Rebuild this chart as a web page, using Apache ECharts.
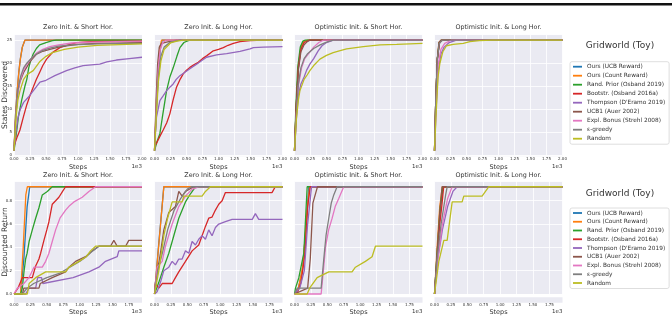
<!DOCTYPE html>
<html>
<head>
<meta charset="utf-8">
<script src="https://cdn.jsdelivr.net/npm/echarts@6/dist/echarts.min.js"></script>
<style>
html, body { margin: 0; padding: 0; background: #fff; }
#main { width: 672px; height: 317px; }
</style>
</head>
<body>
<div id="main"></div>
<script>
// methods in legend order (matplotlib tab10 colours)
var methods = ['Ours (UCB Reward)', 'Ours (Count Reward)', 'Rand. Prior (Osband 2019)', 'Bootstr. (Osband 2016a)',
	'Thompson (D\'Eramo 2019)', 'UCB1 (Auer 2002)', 'Expl. Bonus (Strehl 2008)', 'ε-greedy', 'Random'];
var colors = ['#1f77b4', '#ff7f0e', '#2ca02c', '#d62728', '#9467bd', '#8c564b', '#e377c2', '#7f7f7f', '#bcbd22'];
var panelTitles = ['Zero Init. & Short Hor.', 'Zero Init. & Long Hor.', 'Optimistic Init. & Short Hor.', 'Optimistic Init. & Long Hor.'];
var xMaxTop = 2000, xMaxBottom = 1950, xStep = 250;
var yMaxStates = 26.2, yStepStates = 5;
var yMaxReturn = 0.966, yStepReturn = 0.2;

// states discovered, [step, states], one list per method
var statesZeroShort = [
	[[0,1],[25,9],[50,14],[75,18],[100,21],[130,23.5],[170,25],[2000,25]],
	[[0,1],[25,9],[50,14],[75,18],[100,21],[130,23.5],[170,25],[2000,25]],
	[[0,1],[40,5],[70,8.5],[120,12],[170,15],[200,16.5],[230,19],[260,20.5],[300,22],[350,23.2],[400,24],[500,24.5],[600,24.9],[660,25],[2000,25]],
	[[0,2],[50,4],[93,5.5],[150,8.5],[200,11],[250,13],[300,14.8],[350,16.5],[400,18],[450,19.5],[509,20.9],[600,22.3],[716,23.4],[850,24],[976,24.5],[1200,24.7],[2000,24.8]],
	[[0,1],[30,5],[60,8],[93,9.8],[150,11.5],[223,12.6],[300,14],[405,15.9],[500,16.3],[638,17.3],[820,18.4],[950,19],[1080,19.5],[1340,19.8],[1450,20.3],[1600,20.7],[1800,21],[2000,21.3]],
	[[0,1],[30,9],[60,14],[93,16],[150,18],[197,19.1],[260,20.5],[353,22],[450,22.6],[560,23],[700,23.5],[820,23.8],[1000,24.1],[1300,24.3],[2000,24.5]],
	[[0,1],[30,9],[60,13.5],[100,16.5],[150,18.5],[200,19.8],[270,21],[350,22.2],[450,23],[560,23.6],[700,24],[900,24.4],[1200,24.6],[2000,24.8]],
	[[0,1],[30,9],[60,14],[100,17],[150,19],[200,20],[280,21.2],[350,22],[450,22.8],[560,23.3],[700,23.7],[900,24],[1300,24.2],[2000,24.3]],
	[[0,1],[30,8],[60,12],[93,14],[150,16.5],[200,17.5],[300,18.4],[400,20.3],[500,21.5],[600,22.3],[786,23],[1000,23.5],[1300,23.9],[2000,24.2]]
];
var statesZeroLong = [
	[[0,1],[30,10],[60,18],[90,23],[120,25],[2000,25]],
	[[0,1],[25,10],[50,18],[80,23],[110,25],[2000,25]],
	[[0,1],[40,3],[84,4.7],[120,8],[188,14],[240,17],[292,19],[350,21.5],[397,23.4],[460,24.5],[527,24.9],[560,25],[2000,25]],
	[[0,2],[31,2.6],[80,4],[136,5.5],[190,7],[240,9],[290,12],[344,14.8],[400,16.5],[449,17.7],[500,18.5],[553,19.1],[620,19.7],[684,20.2],[750,21],[814,21.6],[919,22.7],[1000,23],[1075,23.4],[1150,23.9],[1232,24.3],[1336,24.7],[1493,24.9],[1700,25],[2000,25]],
	[[0,1],[15,5],[31,8.3],[84,11.9],[140,13],[188,14],[240,14.8],[292,15.5],[340,16.5],[397,17.3],[470,18],[553,18.8],[658,19.8],[740,20.6],[814,21.3],[971,21.8],[1128,22.1],[1336,22.6],[1493,23.1],[1545,23.4],[1700,23.5],[2000,23.6]],
	[[0,1],[25,12],[50,20],[75,23.5],[110,24.3],[188,24.6],[300,24.9],[344,25],[2000,25]],
	[[0,1],[30,11],[60,19],[90,23],[130,24.5],[180,25],[2000,25]],
	[[0,1],[30,10],[60,17],[100,21.5],[150,23.5],[250,24.6],[400,25],[2000,25]],
	[[0,1],[30,9],[60,16],[100,20.5],[150,23],[250,24.4],[350,24.8],[450,25],[2000,25]]
];
var statesOptShort = [
	[[0,1],[25,10],[60,19],[100,23.5],[150,24.8],[220,25],[2000,25]],
	[[0,1],[25,10],[60,19.5],[100,23.5],[150,24.8],[210,25],[2000,25]],
	[[0,1],[20,10],[50,19],[90,23.5],[130,24.8],[162,25],[2000,25]],
	[[0,1],[25,10],[60,19],[100,23],[150,24.5],[230,25],[2000,25]],
	[[0,1],[30,8],[60,13],[100,15.5],[150,17],[190,18.5],[240,19.8],[300,21],[370,22.7],[430,23.8],[500,24.5],[605,25],[2000,25]],
	[[0,1],[25,10],[60,18.5],[100,22.5],[150,24],[200,24.7],[240,25],[2000,25]],
	[[0,1],[30,9],[60,15],[110,19],[160,21],[214,22],[300,23.5],[380,24.5],[450,25],[2000,25]],
	[[0,1],[30,9],[60,15.5],[100,19],[150,21],[200,22],[300,23.2],[400,24],[500,24.6],[605,25],[2000,25]],
	[[0,1],[30,8],[60,12],[84,14],[150,16.5],[200,17.5],[240,18.4],[300,19.5],[397,20.9],[500,21.7],[605,22.3],[700,22.7],[814,23.1],[1075,23.6],[1336,24],[1597,24.1],[2000,24.3]]
];
var statesOptLong = [
	[[0,1],[20,12],[45,21],[75,24.5],[110,25],[2000,25]],
	[[0,1],[20,12],[45,21],[70,24.5],[105,25],[2000,25]],
	[[0,1],[20,12],[45,21],[75,24.5],[115,25],[2000,25]],
	[[0,1],[20,12],[45,21],[80,24.5],[120,25],[2000,25]],
	[[0,1],[25,10],[55,18],[100,22],[150,23.5],[230,24.5],[344,25],[2000,25]],
	[[0,1],[20,12],[45,21],[70,24.5],[100,25],[2000,25]],
	[[0,1],[25,11],[55,19.5],[100,23],[160,24.3],[260,25],[2000,25]],
	[[0,1],[20,12],[45,21],[75,24.3],[120,25],[2000,25]],
	[[0,1],[25,9],[55,17],[84,20],[130,22.5],[188,23.8],[292,24.1],[450,24.3],[553,24.7],[700,24.9],[900,25],[2000,25]]
];

// discounted return, [step, return]
var returnZeroShort = [
	[[0,0],[100,0],[150,0.3],[200,0.75],[240,0.92],[1950,0.92]],
	[[0,0],[100,0],[140,0.4],[180,0.85],[203,0.92],[1950,0.92]],
	[[0,0],[100,0],[127,0.05],[150,0.18],[177,0.3],[200,0.35],[230,0.45],[279,0.55],[330,0.65],[380,0.74],[431,0.85],[507,0.88],[583,0.92],[1950,0.92]],
	[[0,0],[60,0.05],[127,0.14],[279,0.14],[330,0.24],[380,0.3],[406,0.35],[456,0.46],[500,0.55],[532,0.62],[583,0.77],[634,0.8],[684,0.83],[740,0.88],[786,0.92],[1950,0.92]],
	[[0,0],[177,0],[230,0.05],[330,0.05],[360,0.14],[420,0.14],[440,0.09],[900,0.14],[1141,0.19],[1293,0.23],[1394,0.28],[1572,0.32],[1597,0.37],[1950,0.37]],
	[[0,0],[127,0],[150,0.05],[380,0.05],[400,0.09],[583,0.14],[786,0.19],[838,0.23],[938,0.28],[1090,0.32],[1192,0.37],[1293,0.41],[1470,0.41],[1521,0.46],[1572,0.41],[1700,0.41],[1749,0.46],[1950,0.46]],
	[[0,0],[51,0.05],[150,0.09],[228,0.14],[304,0.23],[431,0.23],[482,0.28],[532,0.35],[583,0.45],[634,0.55],[700,0.65],[786,0.72],[850,0.76],[913,0.79],[1040,0.83],[1141,0.88],[1243,0.92],[1950,0.92]],
	[[0,0],[127,0],[200,0.05],[300,0.09],[500,0.14],[700,0.18],[850,0.23],[1000,0.28],[1100,0.32],[1200,0.37],[1293,0.41],[1950,0.41]],
	[[0,0],[203,0],[230,0.09],[330,0.14],[482,0.19],[786,0.19],[836,0.23],[989,0.28],[1100,0.32],[1166,0.37],[1243,0.41],[1950,0.41]]
];
var returnZeroLong = [
	[[0,0],[60,0.4],[142,0.92],[1950,0.92]],
	[[0,0],[142,0.92],[1950,0.92]],
	[[0,0],[66,0.1],[142,0.23],[218,0.35],[294,0.5],[370,0.65],[472,0.79],[548,0.86],[624,0.92],[1950,0.92]],
	[[0,0],[15,0.09],[66,0.05],[117,0.09],[269,0.09],[319,0.14],[370,0.19],[472,0.28],[573,0.37],[674,0.42],[725,0.5],[776,0.58],[826,0.65],[877,0.66],[928,0.72],[979,0.77],[1030,0.8],[1080,0.87],[1790,0.87],[1840,0.92],[1950,0.92]],
	[[0,0],[40,0.02],[91,0.1],[142,0.2],[218,0.23],[269,0.28],[319,0.25],[370,0.3],[421,0.3],[472,0.37],[523,0.35],[573,0.45],[624,0.42],[674,0.47],[725,0.5],[776,0.47],[826,0.55],[877,0.5],[928,0.57],[979,0.6],[1080,0.62],[1182,0.64],[1385,0.64],[1490,0.64],[1537,0.69],[1588,0.64],[1950,0.64]],
	[[0,0],[15,0.1],[91,0.35],[142,0.55],[218,0.7],[319,0.75],[370,0.88],[421,0.84],[472,0.88],[598,0.92],[1950,0.92]],
	[[0,0],[41,0.23],[117,0.28],[167,0.41],[269,0.6],[370,0.75],[472,0.84],[573,0.9],[674,0.92],[1950,0.92]],
	[[0,0],[50,0.2],[120,0.35],[200,0.55],[300,0.72],[400,0.82],[500,0.9],[560,0.92],[1950,0.92]],
	[[0,0],[66,0.2],[142,0.5],[200,0.65],[269,0.79],[421,0.79],[446,0.84],[725,0.84],[776,0.88],[852,0.92],[1950,0.92]]
];
var returnOptShort = [
	[[0,0],[60,0.05],[120,0.2],[180,0.6],[218,0.92],[1950,0.92]],
	[[0,0],[60,0.05],[130,0.25],[190,0.7],[230,0.92],[1950,0.92]],
	[[0,0],[15,0.05],[66,0.14],[142,0.35],[193,0.92],[1950,0.92]],
	[[0,0],[50,0.02],[100,0.1],[160,0.35],[200,0.75],[240,0.92],[1950,0.92]],
	[[0,0],[80,0.05],[150,0.2],[200,0.6],[260,0.92],[1950,0.92]],
	[[0,0],[200,0.05],[240,0.3],[280,0.78],[330,0.88],[350,0.92],[1950,0.92]],
	[[0,0],[406,0],[440,0.2],[472,0.4],[520,0.55],[573,0.65],[620,0.75],[674,0.82],[750,0.92],[1950,0.92]],
	[[0,0],[40,0.05],[406,0.05],[446,0.3],[480,0.5],[522,0.65],[560,0.78],[598,0.85],[649,0.92],[1950,0.92]],
	[[0,0],[193,0],[230,0.05],[345,0.14],[522,0.19],[877,0.19],[928,0.23],[1080,0.28],[1182,0.32],[1233,0.41],[1950,0.41]]
];
var returnOptLong = [
	[[0,0],[40,0.35],[80,0.7],[127,0.92],[1950,0.92]],
	[[0,0],[40,0.4],[80,0.75],[120,0.92],[1950,0.92]],
	[[0,0],[40,0.35],[90,0.75],[130,0.92],[1950,0.92]],
	[[0,0],[40,0.3],[80,0.6],[110,0.75],[140,0.92],[1950,0.92]],
	[[0,0],[50,0.3],[120,0.55],[200,0.75],[280,0.88],[345,0.92],[1950,0.92]],
	[[0,0],[40,0.35],[80,0.7],[115,0.92],[1950,0.92]],
	[[0,0],[50,0.3],[120,0.6],[200,0.82],[269,0.92],[1950,0.92]],
	[[0,0],[40,0.3],[100,0.6],[170,0.85],[193,0.92],[1950,0.92]],
	[[0,0],[66,0.28],[142,0.46],[193,0.46],[269,0.79],[421,0.79],[446,0.84],[725,0.84],[826,0.92],[1950,0.92]]
];

var panels = [statesZeroShort, statesZeroLong, statesOptShort, statesOptLong,
	returnZeroShort, returnZeroLong, returnOptShort, returnOptLong];

function fmtX(v) { return (v / 1000).toFixed(2); }
function fmtStates(v) { return String(Math.round(v)); }
function fmtReturn(v) { return v.toFixed(1); }

function drawChart() {
	var textColor = '#333';
	var fontName = 'DejaVu Sans';
	var colLeft = [14, 154.5, 294.5, 434.5];
	var plotW = 128;
	var grids = [], xAxes = [], yAxes = [], series = [], graphics = [];

	// rule at the top of the page
	graphics.push({ type: 'rect', shape: { x: 0, y: 3, width: 672, height: 2.5 }, style: { fill: '#111' } });

	for (var i = 0; i < panels.length; i++) {
		var row = i < 4 ? 0 : 1;
		var col = i % 4;
		// grid spans from y = 0 up to max; the small margin below 0 is a plain strip
		var gridTop = row == 0 ? 34.7 : 181.4;
		var zeroY = row == 0 ? 155.3 : 297.3;
		var stripH = row == 0 ? 0.9 : 5.5;
		grids.push({
			left: colLeft[col], top: gridTop, width: plotW, height: zeroY - gridTop,
			show: true, backgroundColor: '#EAEAF2', borderWidth: 0
		});
		graphics.push({ type: 'rect', z: -1, shape: { x: colLeft[col], y: zeroY, width: plotW, height: stripH }, style: { fill: '#EAEAF2' } });
		xAxes.push({
			gridIndex: i, type: 'value', min: 0, max: row == 0 ? xMaxTop : xMaxBottom, interval: xStep,
			axisLine: { show: false },
			axisTick: { show: false },
			axisLabel: {
				fontSize: 4, color: textColor, fontFamily: fontName, margin: row == 0 ? 1.6 : 8.5,
				showMaxLabel: row == 0, formatter: fmtX
			},
			splitLine: { show: true, lineStyle: { color: '#fff', width: 0.8 } },
			name: 'Steps', nameLocation: 'middle', nameGap: row == 0 ? 8.9 : 15,
			nameTextStyle: { fontSize: 6.5, color: textColor, fontFamily: fontName }
		});
		yAxes.push({
			gridIndex: i, type: 'value', min: 0,
			max: row == 0 ? yMaxStates : yMaxReturn,
			interval: row == 0 ? yStepStates : yStepReturn,
			axisLine: { show: false },
			axisTick: { show: false },
			axisLabel: {
				show: col == 0, fontSize: 4, color: textColor, fontFamily: fontName, margin: 2,
				showMaxLabel: false, showMinLabel: true, formatter: row == 0 ? fmtStates : fmtReturn
			},
			splitLine: { show: true, lineStyle: { color: '#fff', width: 0.8 } }
		});

		for (var k = 0; k < methods.length; k++) {
			series.push({
				type: 'line', name: methods[k], xAxisIndex: i, yAxisIndex: i,
				data: panels[i][k], showSymbol: false, symbol: 'none', silent: true, clip: false,
				lineStyle: { width: 1.3, color: colors[k] }, itemStyle: { color: colors[k] },
				animation: false
			});
		}

		// panel title and offset text
		graphics.push({
			type: 'text', x: colLeft[col] + plotW / 2, y: row == 0 ? 27.7 : 175,
			style: { text: panelTitles[col], align: 'center', verticalAlign: 'middle', fontSize: 6.4, fill: textColor, fontFamily: fontName }
		});
		graphics.push({
			type: 'text', x: colLeft[col] + plotW, y: row == 0 ? 166.5 : 312,
			style: { text: '1e3', align: 'right', verticalAlign: 'middle', fontSize: 5.5, fill: textColor, fontFamily: fontName }
		});
	}

	// y labels
	graphics.push({
		type: 'text', x: 5, y: 95, rotation: Math.PI / 2,
		style: { text: 'States Discovered', align: 'center', verticalAlign: 'middle', fontSize: 7.5, fill: textColor, fontFamily: fontName }
	});
	graphics.push({
		type: 'text', x: 5, y: 242, rotation: Math.PI / 2,
		style: { text: 'Discounted Return', align: 'center', verticalAlign: 'middle', fontSize: 7.5, fill: textColor, fontFamily: fontName }
	});
	// legend titles
	graphics.push({
		type: 'text', x: 620, y: 45.7,
		style: { text: 'Gridworld (Toy)', align: 'center', verticalAlign: 'middle', fontSize: 9, fill: textColor, fontFamily: fontName }
	});
	graphics.push({
		type: 'text', x: 620, y: 194,
		style: { text: 'Gridworld (Toy)', align: 'center', verticalAlign: 'middle', fontSize: 9, fill: textColor, fontFamily: fontName }
	});

	function makeLegend(legendTop, gap) {
		return {
			data: methods, orient: 'vertical', left: 570, top: legendTop, icon: 'rect',
			itemWidth: 9, itemHeight: 1.8, itemGap: gap, selectedMode: false,
			padding: [1.5, 4, 2, 3], borderColor: '#d6d6d6', borderWidth: 0.8, borderRadius: 2,
			backgroundColor: '#fff',
			textStyle: { fontSize: 5.8, lineHeight: 7, color: textColor, fontFamily: fontName }
		};
	}

	var myChart = echarts.init(document.getElementById('main'));
	myChart.setOption({
		animation: false,
		backgroundColor: '#fff',
		grid: grids,
		xAxis: xAxes,
		yAxis: yAxes,
		legend: [makeLegend(61.7, 2), makeLegend(208, 1.75)],
		graphic: graphics,
		series: series
	});
}

drawChart();
</script>
</body>
</html>
